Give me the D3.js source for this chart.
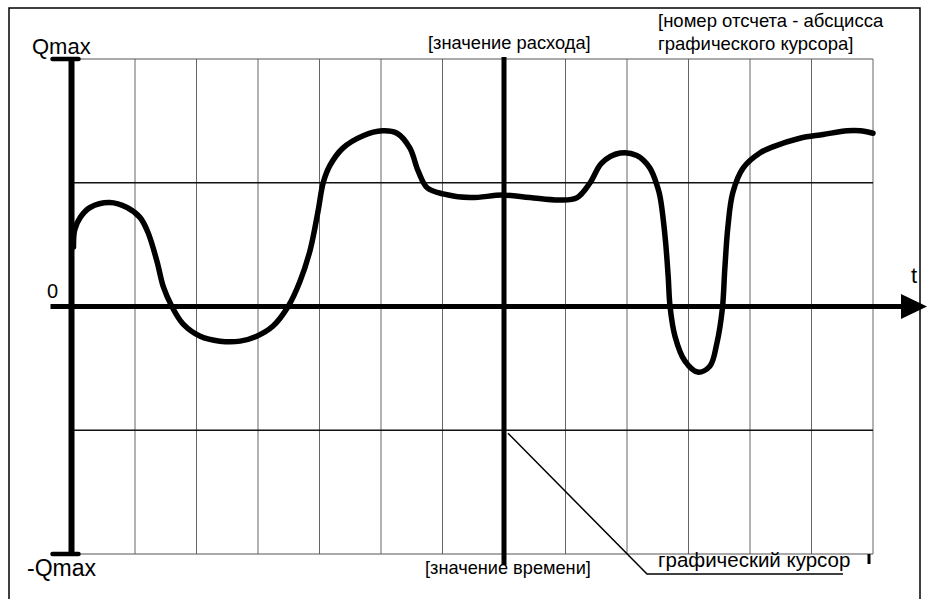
<!DOCTYPE html>
<html>
<head>
<meta charset="utf-8">
<script src="https://cdn.jsdelivr.net/npm/d3@7"></script>
<style>
  html, body { margin: 0; padding: 0; background: #fff; }
  svg { display: block; }
  text { font-family: "Liberation Sans", Arial, sans-serif; fill: #000; }
</style>
</head>
<body>
<svg id="chart" width="929" height="599"></svg>
<script>
// Time axis in sample units (grid step = one sample), flow as % of Qmax
const timeDomain = [0, 13];
const flowDomain = [-100, 100];
const gridTimes = [1, 2, 3, 4, 5, 6, 7, 8, 9, 10, 11, 12, 13];
const halfLevels = [50, -50];
const limitLevels = [100, -100];
const cursorTime = 7;

// Flow trace: time (samples) and flow (% of Qmax)
const flowT = [0.0, 0.02, 0.11, 0.27, 0.59, 0.87, 1.08, 1.21, 1.36, 1.46, 1.60, 1.78, 2.06, 2.38, 2.71,
  2.98, 3.24, 3.49, 3.68, 3.85, 3.98, 4.06, 4.17, 4.38, 4.71, 5.02, 5.26, 5.47, 5.60, 5.75,
  6.01, 6.45, 6.98, 7.42, 7.91, 8.19, 8.40, 8.59, 8.89, 9.16, 9.37, 9.50, 9.54, 9.62, 9.67,
  9.70, 9.78, 9.94, 10.15, 10.35, 10.46, 10.55, 10.59, 10.64, 10.72, 10.89, 11.16, 11.37,
  11.81, 12.19, 12.58, 12.79, 13.0];
const flowQ = [24, 31, 36, 40, 42, 40, 36, 30, 18, 8, 0, -7, -12, -14, -14,
  -12, -8, 0, 10, 23, 39, 50, 57, 64, 69, 71, 70, 64, 55, 48,
  45.5, 44, 45, 44, 43, 44, 50, 58, 62, 61, 56, 48, 44, 28, 12,
  0, -12, -22, -26.5, -24, -15, -1, 15, 32, 46, 56, 62, 64.5,
  68, 69.5, 71, 71, 70];

const axisLabels = { top: "Qmax", zero: "0", bottom: "-Qmax", time: "t" };
const noteFlow = "[значение расхода]";
const noteSample = ["[номер отсчета - абсцисса", "графического курсора]"];
const noteTime = "[значение времени]";
const noteCursor = "графический курсор";

const svg = d3.select("#chart");
const x = d3.scaleLinear().domain(timeDomain).range([73.5, 873]);
const y = d3.scaleLinear().domain(flowDomain).range([554, 59]);

// outer frame (bottom edge lies below the visible area)
svg.append("rect")
  .attr("x", 9).attr("y", 8).attr("width", 911).attr("height", 620)
  .attr("fill", "none").attr("stroke", "#000").attr("stroke-width", 1.5);

// vertical grid
svg.append("g").selectAll("line").data(gridTimes).join("line")
  .attr("x1", d => x(d)).attr("x2", d => x(d))
  .attr("y1", y(100)).attr("y2", y(-100))
  .attr("stroke", "#666").attr("stroke-width", 1);

// ±Qmax limit lines
svg.append("g").selectAll("line").data(limitLevels).join("line")
  .attr("x1", x(0)).attr("x2", x(13))
  .attr("y1", d => y(d)).attr("y2", d => y(d))
  .attr("stroke", "#555").attr("stroke-width", 1);

// ±Qmax/2 lines
svg.append("g").selectAll("line").data(halfLevels).join("line")
  .attr("x1", x(0)).attr("x2", x(13))
  .attr("y1", d => y(d)).attr("y2", d => y(d))
  .attr("stroke", "#111").attr("stroke-width", 1.4);

// vertical flow axis with end caps
const ax = x(0) - 2;
svg.append("line").attr("x1", ax).attr("x2", ax)
  .attr("y1", y(100)).attr("y2", y(-100))
  .attr("stroke", "#000").attr("stroke-width", 6);
svg.append("g").selectAll("line").data(limitLevels).join("line")
  .attr("x1", ax - 19).attr("x2", ax + 7)
  .attr("y1", d => y(d)).attr("y2", d => y(d))
  .attr("stroke", "#000").attr("stroke-width", 4.5).attr("stroke-linecap", "round");

// time axis with arrow
svg.append("line").attr("x1", ax - 21).attr("x2", 905)
  .attr("y1", y(0)).attr("y2", y(0))
  .attr("stroke", "#000").attr("stroke-width", 5);
svg.append("path")
  .attr("d", `M901,${y(0) - 12.5}L927,${y(0)}L901,${y(0) + 12.5}Z`)
  .attr("fill", "#000");

// flow trace
const line = d3.line()
  .x((d, i) => x(flowT[i]))
  .y(d => y(d))
  .curve(d3.curveCatmullRom.alpha(0.5));
svg.append("path").attr("d", line(flowQ))
  .attr("fill", "none").attr("stroke", "#000")
  .attr("stroke-width", 5.5).attr("stroke-linejoin", "round").attr("stroke-linecap", "round");

// graphical cursor
const cx = x(cursorTime);
svg.append("line").attr("x1", cx).attr("x2", cx)
  .attr("y1", y(100) - 2).attr("y2", y(-100) + 11)
  .attr("stroke", "#000").attr("stroke-width", 5);

// leader to the cursor note
svg.append("path")
  .attr("d", `M${cx + 4},${y(-50) + 3}L647,574L843,574`)
  .attr("fill", "none").attr("stroke", "#000").attr("stroke-width", 1.5);
svg.append("line").attr("x1", x(13) - 4).attr("x2", x(13) - 4)
  .attr("y1", y(-100)).attr("y2", y(-100) + 10)
  .attr("stroke", "#000").attr("stroke-width", 3);

// labels
svg.append("text").attr("x", 32).attr("y", 54).attr("font-size", 22).text(axisLabels.top);
svg.append("text").attr("x", 27).attr("y", 576).attr("font-size", 23).text(axisLabels.bottom);
svg.append("text").attr("x", 47).attr("y", 298).attr("font-size", 20).text(axisLabels.zero);
svg.append("text").attr("x", 911).attr("y", 283).attr("font-size", 22).text(axisLabels.time);

svg.append("text").attr("x", 428).attr("y", 49).attr("font-size", 18.3).text(noteFlow);
svg.append("text").attr("x", 658).attr("y", 27).attr("font-size", 18.5).text(noteSample[0]);
svg.append("text").attr("x", 658).attr("y", 50).attr("font-size", 18.5).text(noteSample[1]);
svg.append("text").attr("x", 425).attr("y", 574).attr("font-size", 18.2).text(noteTime);
svg.append("text").attr("x", 658).attr("y", 567).attr("font-size", 20.5).text(noteCursor);
</script>
</body>
</html>
